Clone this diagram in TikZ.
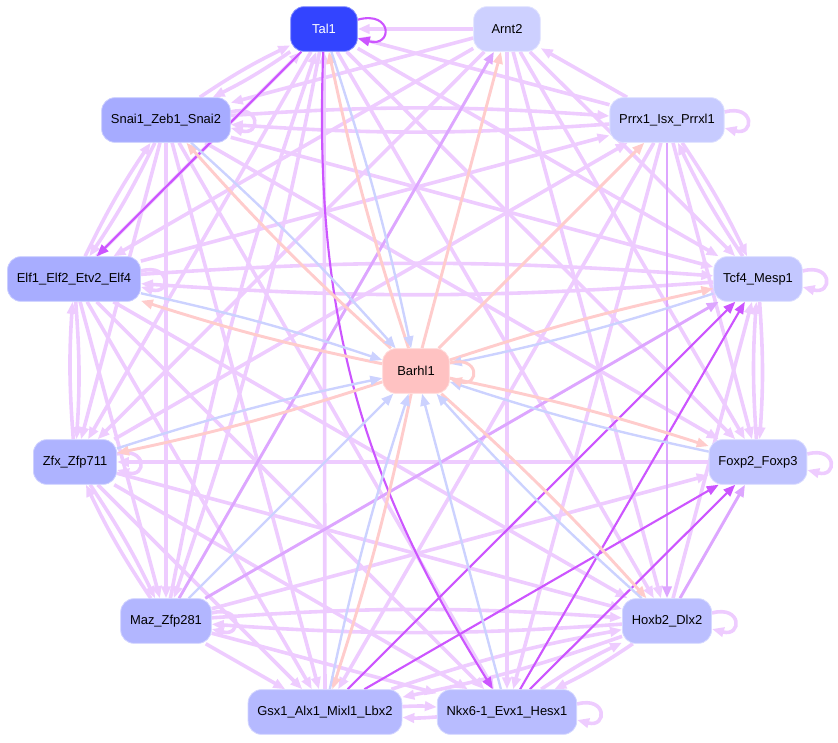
\documentclass[tikz,border=0pt]{standalone}
\usepackage{fontspec}
\setmainfont{Liberation Sans}
\usetikzlibrary{arrows.meta,backgrounds}

\definecolor{edgelilac}{HTML}{EECCFF}
\definecolor{edgeviolet}{HTML}{DDA6FF}
\definecolor{edgehot}{HTML}{CC55FF}
\definecolor{edgepink}{HTML}{FFCCCC}
\definecolor{edgeblue}{HTML}{CCD2FF}
\definecolor{talfill}{HTML}{3344FF}
\definecolor{arntfill}{HTML}{CDD0FF}
\definecolor{prrxfill}{HTML}{C7CBFF}
\definecolor{tcffill}{HTML}{C3C7FF}
\definecolor{foxpfill}{HTML}{BFC3FF}
\definecolor{hoxbfill}{HTML}{BBBFFF}
\definecolor{nkxfill}{HTML}{B8BCFF}
\definecolor{gsxfill}{HTML}{B5B9FF}
\definecolor{mazfill}{HTML}{B2B6FF}
\definecolor{zfxfill}{HTML}{AEB3FF}
\definecolor{elffill}{HTML}{A8ADFF}
\definecolor{snaifill}{HTML}{A6ABFF}
\definecolor{barhlfill}{HTML}{FFC2C2}

\tikzset{
	gene/.style={fill=#1, draw=#1!60!white, line width=0.6pt, rounded corners=10pt,
		minimum width=50pt, minimum height=33.5pt, inner xsep=7pt,
		font=\fontsize{9.7}{11}\selectfont},
	tip/.style={-{Triangle[length=9pt,width=7pt]}},
	lite/.style={tip, draw=edgelilac, line width=2.7pt},
	mid/.style={tip, draw=edgeviolet, line width=2.2pt},
	hot/.style={tip, draw=edgehot, line width=1.6pt},
	pinkedge/.style={tip, draw=edgepink, line width=2.2pt},
	blueedge/.style={tip, draw=edgeblue, line width=1.8pt},
	selfloop/.style={out=15, in=-15, looseness=5}
}

\begin{document}
\begin{tikzpicture}[x=0.75pt, y=-0.75pt]
	\useasboundingbox (0,0) rectangle (838,742);

	% genes on the ring
	\node[gene=talfill, text=white] (tal) at (324,29) {Tal1};
	\node[gene=arntfill] (arnt) at (507,29) {Arnt2};
	\node[gene=prrxfill] (prrx) at (667,120) {Prrx1\_Isx\_Prrxl1};
	\node[gene=tcffill] (tcf) at (758,279) {Tcf4\_Mesp1};
	\node[gene=foxpfill] (foxp) at (758,462) {Foxp2\_Foxp3};
	\node[gene=hoxbfill] (hoxb) at (667,621) {Hoxb2\_Dlx2};
	\node[gene=nkxfill] (nkx) at (507,712) {Nkx6-1\_Evx1\_Hesx1};
	\node[gene=gsxfill] (gsx) at (325,712) {Gsx1\_Alx1\_Mixl1\_Lbx2};
	\node[gene=mazfill] (maz) at (166,621) {Maz\_Zfp281};
	\node[gene=zfxfill] (zfx) at (75,462) {Zfx\_Zfp711};
	\node[gene=elffill] (elf) at (74,279) {Elf1\_Elf2\_Etv2\_Elf4};
	\node[gene=snaifill] (snai) at (166,120) {Snai1\_Zeb1\_Snai2};
	% centre
	\node[gene=barhlfill] (barhl) at (416,371) {Barhl1};

	\begin{scope}[on background layer]
		% one-way links
		\foreach \a/\b in {arnt/tal, prrx/tal, tal/tcf, tal/foxp, tal/hoxb, gsx/tal, tal/zfx, elf/tal,
			prrx/arnt, arnt/tcf, arnt/foxp, arnt/hoxb, arnt/nkx, arnt/zfx, arnt/elf, arnt/snai,
			prrx/foxp, prrx/nkx, prrx/gsx, zfx/prrx, elf/prrx, hoxb/tcf, snai/tcf,
			maz/foxp, foxp/zfx, snai/foxp, zfx/hoxb, elf/hoxb,
			maz/nkx, zfx/nkx, elf/nkx, snai/nkx, maz/gsx, zfx/gsx, elf/gsx, snai/gsx,
			elf/maz, snai/maz, snai/zfx}
			\draw[lite] (\a) -- (\b);

		% two-way links
		\foreach \a/\b in {tal/maz, snai/tal, prrx/tcf, snai/prrx, tcf/foxp, elf/tcf, hoxb/nkx,
			gsx/hoxb, maz/hoxb, gsx/nkx, maz/zfx, zfx/elf, elf/snai}
		{
			\draw[lite] (\a) to[bend left=4] (\b);
			\draw[lite] (\b) to[bend left=4] (\a);
		}

		% self loops
		\foreach \n in {prrx, tcf, foxp, hoxb, nkx, zfx, maz, elf, snai}
			\draw[lite] ([yshift=6pt]\n.east) to[selfloop] ([yshift=-6pt]\n.east);

		% stronger links
		\foreach \a/\b in {maz/arnt, maz/tcf, prrx/hoxb, hoxb/foxp}
			\draw[mid] (\a) -- (\b);
		\foreach \a/\b in {tal/elf, nkx/tcf, gsx/tcf, nkx/foxp, gsx/foxp}
			\draw[hot] (\a) -- (\b);
		\draw[hot] (tal) to[bend right=17] (nkx);
		\draw[hot] ([yshift=7pt]tal.east) to[selfloop] ([yshift=-7pt]tal.east);

		% Barhl1 in and out
		\foreach \n in {tal, tcf, foxp, hoxb, gsx, zfx, elf, snai}
		{
			\draw[pinkedge] (barhl) to[bend left=3] (\n);
			\draw[blueedge] (\n) to[bend left=3] (barhl);
		}
		\foreach \n in {arnt, prrx}
			\draw[pinkedge] (barhl) -- (\n);
		\foreach \n in {maz, nkx}
			\draw[blueedge] (\n) -- (barhl);
		\draw[pinkedge] ([yshift=6pt]barhl.east) to[selfloop] ([yshift=-6pt]barhl.east);
	\end{scope}
\end{tikzpicture}
\end{document}
